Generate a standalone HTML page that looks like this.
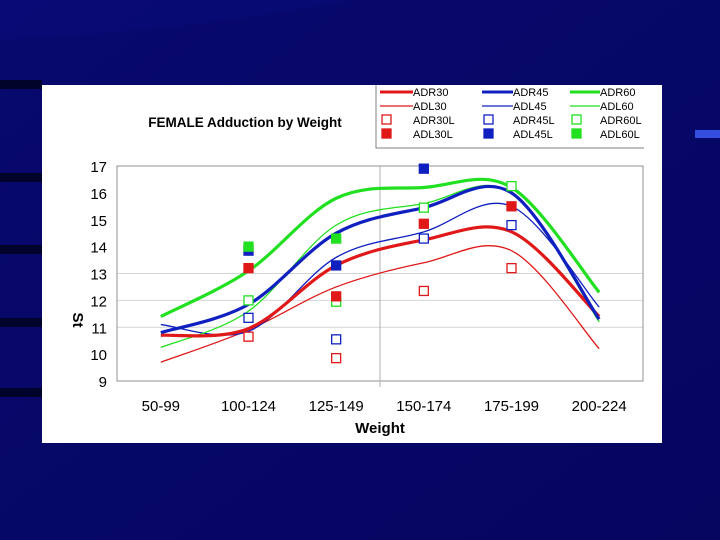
<!DOCTYPE html>
<html><head><meta charset="utf-8"><style>
html,body{margin:0;padding:0;width:720px;height:540px;overflow:hidden;background:#07086a;}
svg{display:block;font-family:"Liberation Sans",Arial,sans-serif;}
</style></head><body>
<svg id="c" width="720" height="540" viewBox="0 0 720 540">
<defs><linearGradient id="bg" x1="0" y1="0" x2="1" y2="1"><stop offset="0" stop-color="#08096e"/><stop offset="1" stop-color="#050660"/></linearGradient></defs>
<rect width="720" height="540" fill="url(#bg)"/>
<path d="M0 40 Q200 30 350 0 L720 0 L0 0 Z" fill="#0a0c7a" opacity="0.6"/>
<rect x="0" y="80" width="42" height="9" fill="#02032a"/>
<rect x="0" y="173" width="42" height="9" fill="#02032a"/>
<rect x="0" y="245" width="42" height="9" fill="#02032a"/>
<rect x="0" y="318" width="42" height="9" fill="#02032a"/>
<rect x="0" y="388" width="42" height="9" fill="#02032a"/>
<rect x="695" y="130" width="25" height="8" fill="#4060ff" opacity="0.8"/>
<rect x="42" y="85" width="620" height="358" fill="#fff"/>
<g id="plot"></g>
</svg>
<script>
const categories=["50-99","100-124","125-149","150-174","175-199","200-224"];
const yTicks=[9,10,11,12,13,14,15,16,17];
const gridValues=[11,12,13];
const ADR30=[10.7,10.95,13.3,14.25,14.55,11.4];
const ADL30=[9.7,10.9,12.5,13.4,13.85,10.2];
const ADR45=[10.8,11.85,14.5,15.45,16.0,11.3];
const ADL45=[11.1,10.85,13.6,14.55,15.5,11.75];
const ADR60=[11.4,13.1,15.8,16.2,16.2,12.3];
const ADL60=[10.25,11.6,14.8,15.6,16.0,11.2];
const ADR30L=[null,10.65,9.85,12.35,13.2,null];
const ADL30L=[null,13.2,12.15,14.85,15.5,null];
const ADR45L=[null,11.35,10.55,14.3,14.8,null];
const ADL45L=[null,13.85,13.3,16.9,null,null];
const ADR60L=[null,12.0,11.95,15.45,16.25,null];
const ADL60L=[null,14.0,14.3,null,null,null];

const NS="http://www.w3.org/2000/svg";
const g=document.getElementById('plot');
const L=117,R=643,T=166,B=381,ymin=9,ymax=17;
const xs=i=>L+(R-L)/categories.length*(i+0.5);
const ys=v=>B-(v-ymin)/(ymax-ymin)*(B-T);
function mk(tag,attrs,parent){const e=document.createElementNS(NS,tag);for(const k in attrs)e.setAttribute(k,attrs[k]);(parent||g).appendChild(e);return e;}
function txt(s,attrs){const e=mk('text',attrs);e.textContent=s;return e;}

gridValues.forEach(v=>{
  const gl=mk('line',{x1:L,x2:R,y1:ys(v),y2:ys(v),stroke:'#d4d4d4','stroke-width':1});
  
  
});
yTicks.forEach(v=>{
  const t=txt(String(v),{x:107,y:ys(v)+6,'text-anchor':'end','font-size':15,fill:'#000'});
  
  
});
const fr=mk('rect',{x:L,y:T,width:R-L,height:B-T,fill:'none',stroke:'#909090','stroke-width':1});


const vl=mk('line',{x1:(L+R)/2,x2:(L+R)/2,y1:T,y2:B+6,stroke:'#b0b0b0','stroke-width':1});


categories.forEach((c,i)=>{
  const t=txt(c,{x:xs(i),y:411,'text-anchor':'middle','font-size':15,fill:'#000'});
  
  
});
let t=txt('Weight',{x:380,y:433,'text-anchor':'middle','font-size':15,'font-weight':'bold',fill:'#000'});


t=txt('St',{x:0,y:0,transform:'translate(73,320) rotate(90)','text-anchor':'middle','font-size':15,'font-weight':'bold',fill:'#000'});


t=txt('FEMALE Adduction by Weight',{x:245,y:127,'text-anchor':'middle','font-size':13.5,'font-weight':'bold',fill:'#000'});



function smooth(vals){
  const p=vals.map((v,i)=>[xs(i),ys(v)]);
  let d='M'+p[0][0]+' '+p[0][1];
  for(let i=0;i<p.length-1;i++){
    const p0=p[i-1]||p[i],p1=p[i],p2=p[i+1],p3=p[i+2]||p2;
    const c1=[p1[0]+(p2[0]-p0[0])/6,p1[1]+(p2[1]-p0[1])/6];
    const c2=[p2[0]-(p3[0]-p1[0])/6,p2[1]-(p3[1]-p1[1])/6];
    d+=` C${c1[0]} ${c1[1]} ${c2[0]} ${c2[1]} ${p2[0]} ${p2[1]}`;
  }
  return d;
}
const RED='#e01818',BLUE='#1020c0',GREEN='#20e020';
[[ADL30,RED,1.3,'adl30'],[ADL45,BLUE,1.3,'adl45'],[ADL60,GREEN,1.3,'adl60'],
 [ADR30,RED,3.2,'adr30'],[ADR45,BLUE,3.2,'adr45'],[ADR60,GREEN,3.2,'adr60']].forEach(s=>{
  const p=mk('path',{d:smooth(s[0]),fill:'none',stroke:s[1],'stroke-width':s[2]});
  
  
});
[[ADR30L,RED,false,'adr30l'],[ADR45L,BLUE,false,'adr45l'],[ADR60L,GREEN,false,'adr60l'],
 [ADL30L,RED,true,'adl30l'],[ADL45L,BLUE,true,'adl45l'],[ADL60L,GREEN,true,'adl60l']].forEach(s=>{
  s[0].forEach((v,i)=>{
    if(v===null)return;
    const m=mk('rect',{x:xs(i)-4.5,y:ys(v)-4.5,width:9,height:9,fill:s[2]?s[1]:'#fff',stroke:s[1],'stroke-width':1.3});
    
    
  });
});

const lg=mk('g',{});


mk('path',{d:'M376 85 V148 H644',fill:'none',stroke:'#808080','stroke-width':1},lg);
const cols=[[RED,'30',380],[BLUE,'45',482],[GREEN,'60',570]];
const rows=[92,106,120,134];
cols.forEach(c=>{
  const tx=c[2]+(c[2]===380?33:c[2]===482?31:30);
  [['ADR'+c[1],'thick'],['ADL'+c[1],'thin'],['ADR'+c[1]+'L','open'],['ADL'+c[1]+'L','fill']].forEach((e,r)=>{
    const y=rows[r];
    if(e[1]==='thick'||e[1]==='thin') mk('line',{x1:c[2],x2:tx,y1:y,y2:y,stroke:c[0],'stroke-width':e[1]==='thick'?3:1.3},lg);
    else mk('rect',{x:c[2]+2,y:y-5,width:9,height:9,fill:e[1]==='fill'?c[0]:'#fff',stroke:c[0],'stroke-width':1.3},lg);
    const tt=mk('text',{x:tx,y:y+4,'font-size':11,fill:'#000'},lg);
    tt.textContent=e[0];
    
    
  });
});
</script>
</body></html>
